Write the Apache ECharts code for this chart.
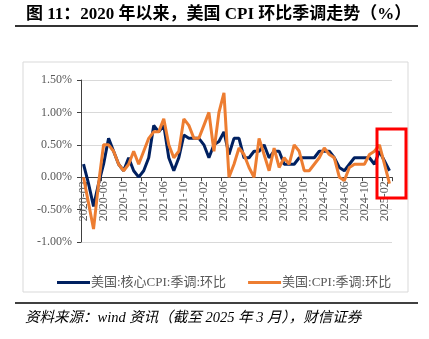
<!DOCTYPE html>
<html>
<head>
<meta charset="utf-8">
<script src="https://cdn.jsdelivr.net/npm/echarts@6/dist/echarts.min.js"></script>
<style>
html,body{margin:0;padding:0;background:#fff;}
#chart{width:429px;height:339px;}
</style>
</head>
<body>
<div id="chart"></div>
<script>
// Months 2020-02 .. 2025-03
var months = [
 '2020-02','2020-03','2020-04','2020-05','2020-06','2020-07','2020-08','2020-09','2020-10','2020-11','2020-12',
 '2021-01','2021-02','2021-03','2021-04','2021-05','2021-06','2021-07','2021-08','2021-09','2021-10','2021-11','2021-12',
 '2022-01','2022-02','2022-03','2022-04','2022-05','2022-06','2022-07','2022-08','2022-09','2022-10','2022-11','2022-12',
 '2023-01','2023-02','2023-03','2023-04','2023-05','2023-06','2023-07','2023-08','2023-09','2023-10','2023-11','2023-12',
 '2024-01','2024-02','2024-03','2024-04','2024-05','2024-06','2024-07','2024-08','2024-09','2024-10','2024-11','2024-12',
 '2025-01','2025-02','2025-03'
];
// 美国:核心CPI:季调:环比 (%)
var coreCPI = [
 0.2,-0.1,-0.45,-0.1,0.2,0.6,0.4,0.2,0.1,0.3,0.1,
 0.0,0.1,0.3,0.8,0.7,0.8,0.3,0.1,0.3,0.65,0.6,0.6,
 0.6,0.5,0.3,0.5,0.55,0.7,0.35,0.6,0.6,0.3,0.3,0.4,
 0.4,0.5,0.3,0.4,0.4,0.2,0.2,0.2,0.3,0.3,0.3,0.3,
 0.4,0.4,0.4,0.3,0.15,0.1,0.2,0.3,0.3,0.3,0.3,0.2,
 0.4,0.25,0.1
];
// 美国:CPI:季调:环比 (%)
var headlineCPI = [
 0.0,-0.4,-0.8,-0.1,0.5,0.5,0.4,0.2,0.1,0.2,0.4,
 0.2,0.4,0.6,0.7,0.7,0.9,0.5,0.3,0.4,0.9,0.8,0.6,
 0.6,0.8,1.0,0.4,1.0,1.3,0.0,0.2,0.45,0.35,0.15,0.0,
 0.6,0.35,0.1,0.45,0.15,0.3,0.2,0.5,0.4,0.1,0.1,0.2,
 0.3,0.45,0.35,0.3,0.0,-0.05,0.15,0.2,0.2,0.2,0.35,0.4,
 0.5,0.2,-0.1
];
var seriesNames = ['美国:核心CPI:季调:环比','美国:CPI:季调:环比'];
var yTicks = {min:-1, max:1.5, interval:0.5};

var W = 429, H = 339;
var grid = {left:81, right:37, top:80, bottom:97};
var gridH = H - grid.top - grid.bottom;
// move the category axis (line, ticks, labels) up to the zero line
var zeroOffset = -((0 - yTicks.min) / (yTicks.max - yTicks.min)) * gridH;

var serif = '"Times New Roman","Liberation Serif","Noto Sans CJK SC",serif';
var chart = echarts.init(document.getElementById('chart'), null, {renderer:'canvas'});
chart.setOption({
  animation:false,
  backgroundColor:'#fff',
  grid:{left:grid.left,right:grid.right,top:grid.top,bottom:grid.bottom,containLabel:false,outerBoundsMode:'none'},
  legend:{
    data:seriesNames,
    left:52, top:271,
    icon:'rect', itemWidth:33, itemHeight:3, itemGap:22,
    textStyle:{color:'#595959', fontSize:13, fontFamily:serif, padding:[0,0,0,-4]}
  },
  xAxis:{
    type:'category', data:months, boundaryGap:true,
    position:'bottom', offset:zeroOffset,
    axisLine:{onZero:false, lineStyle:{color:'#404040', width:1}},
    axisTick:{show:true, interval:3, length:4, lineStyle:{color:'#404040'}},
    axisLabel:{interval:3, rotate:90, margin:4, color:'#595959', fontSize:12, fontFamily:serif},
    splitLine:{show:false}
  },
  yAxis:{
    type:'value', min:yTicks.min, max:yTicks.max, interval:yTicks.interval,
    axisLine:{show:true, lineStyle:{color:'#404040', width:1}},
    axisTick:{show:true, length:4, lineStyle:{color:'#404040'}},
    axisLabel:{color:'#595959', fontSize:12, fontFamily:serif, margin:9,
      formatter:function(v){return v.toFixed(2)+'%';}},
    splitLine:{show:true, lineStyle:{color:'#d9d9d9', width:1}}
  },
  series:[
    {name:seriesNames[0], type:'line', data:coreCPI, symbol:'none',
     lineStyle:{color:'#002060', width:3}, itemStyle:{color:'#002060'}},
    {name:seriesNames[1], type:'line', data:headlineCPI, symbol:'none',
     lineStyle:{color:'#ED7D31', width:3}, itemStyle:{color:'#ED7D31'}}
  ],
  graphic:[
    {type:'text', left:26, top:6, style:{text:'图 11：2020 年以来，美国 CPI 环比季调走势（%）',
      font:'bold 17px '+serif, fill:'#000'}},
    {type:'line', shape:{x1:15,y1:26,x2:418,y2:26}, style:{stroke:'#333', lineWidth:2}},
    {type:'rect', shape:{x:23,y:62,width:385,height:230}, style:{fill:'none', stroke:'#d9d9d9', lineWidth:1}, z:-1},
    {type:'rect', shape:{x:377,y:129,width:29,height:69}, style:{fill:'none', stroke:'#ff0000', lineWidth:3}, z:100},
    {type:'line', shape:{x1:15,y1:303,x2:418,y2:303}, style:{stroke:'#000', lineWidth:1.5}},
    {type:'text', left:25, top:311, style:{text:'资料来源：wind 资讯（截至 2025 年 3 月），财信证券',
      font:'italic 14.5px '+serif, fill:'#000'}}
  ]
});
</script>
</body>
</html>
